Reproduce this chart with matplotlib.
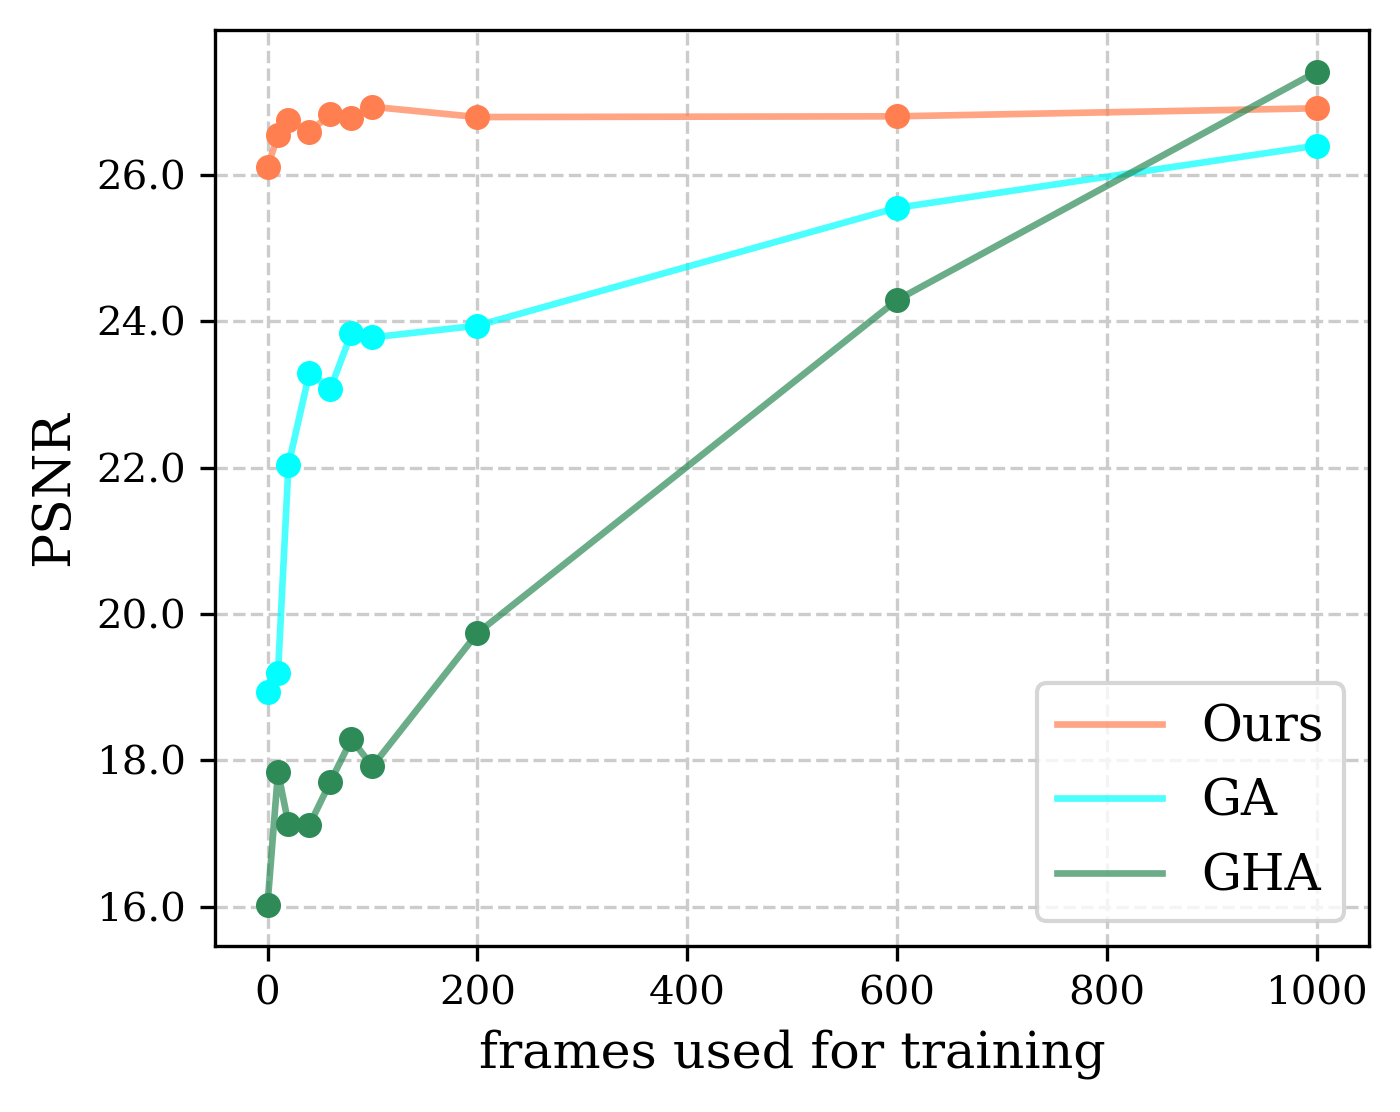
import matplotlib
matplotlib.use("Agg")
import matplotlib.pyplot as plt
from matplotlib.ticker import FormatStrFormatter

plt.rcParams["font.family"] = "DejaVu Serif"

frames = [0, 10, 20, 40, 60, 80, 100, 200, 600, 1000]
psnr_ours = [26.11, 26.54, 26.75, 26.59, 26.83, 26.78, 26.93, 26.79, 26.80, 26.91]
psnr_ga = [18.94, 19.19, 22.04, 23.30, 23.08, 23.84, 23.78, 23.94, 25.55, 26.40]
psnr_gha = [16.03, 17.84, 17.13, 17.12, 17.71, 18.29, 17.92, 19.74, 24.29, 27.41]

series = [
    ("Ours", psnr_ours, "coral"),
    ("GA", psnr_ga, "cyan"),
    ("GHA", psnr_gha, "seagreen"),
]

fig = plt.figure(figsize=(1400 / 300, 1112 / 300), dpi=300)
ax = fig.add_axes([0.1536, 0.149, 0.8244, 0.824])

for name, values, color in series:
    ax.plot(frames, values, color=color, alpha=0.7, linewidth=1.6, label=name)
    ax.scatter(frames, values, color=color, s=36, zorder=3, linewidths=0)

ax.yaxis.set_major_formatter(FormatStrFormatter("%.1f"))
ax.tick_params(labelsize=9.7)
ax.set_xlabel("frames used for training", fontsize=12.2)
ax.set_ylabel("PSNR", fontsize=12.5)
ax.grid(True, linestyle="--", color="#cccccc", linewidth=0.8)
ax.set_axisbelow(True)
ax.legend(loc="lower right", fontsize=12, handlelength=2.1)

fig.savefig("out.png", dpi=300)
